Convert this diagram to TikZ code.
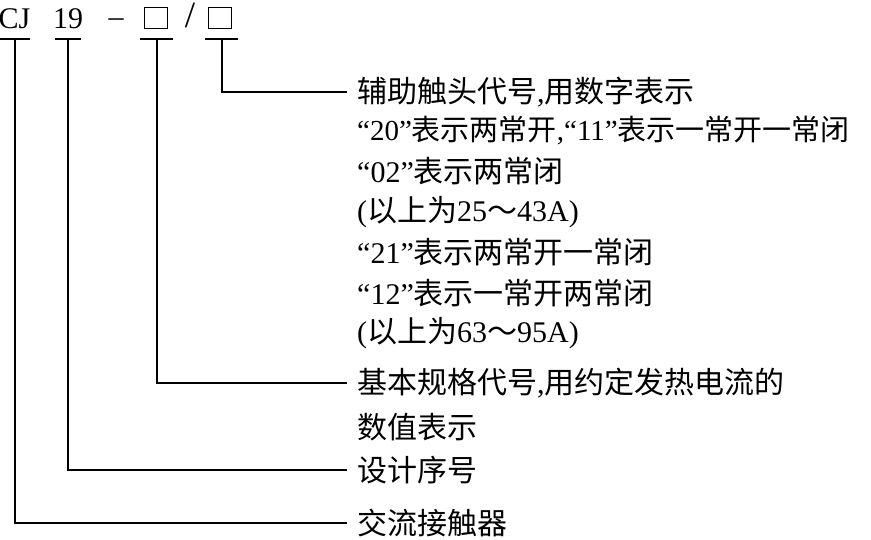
\documentclass[tikz,border=0pt]{standalone}
\usepackage{fontspec}
\setmainfont{Liberation Serif}
\newfontfamily\cjk{Noto Sans CJK SC}
\tikzset{
  hdr/.style={anchor=base, inner sep=0pt, font=\fontsize{30}{32}\selectfont},
  lbl/.style={anchor=west, inner sep=0pt, font=\fontsize{30}{32}\selectfont},
  codebox/.style={draw, line width=1.3pt, minimum width=23pt, minimum height=21pt, inner sep=0pt},
  uline/.style={line width=1.4pt},
  lead/.style={line width=1.6pt}
}
\begin{document}
\begin{tikzpicture}[x=1pt,y=-1pt]
\useasboundingbox (0,0) rectangle (871,539);
% header
\node[hdr] (cj) at (14.5,28) {CJ};
\node[hdr] (n19) at (68,28) {19};
\node[hdr] (dash) at (116,26) {–};
\node[codebox] (b1) at (156,18) {};
\node[hdr, font=\fontsize{37}{38}\selectfont] (slash) at (190,27.5) {/};
\node[codebox] (b2) at (220,18) {};
% underlines
\coordinate (cjul) at (15,39);
\coordinate (n19ul) at (68,39);
\coordinate (b1ul) at (157,39);
\coordinate (b2ul) at (222,39);
\draw[uline] (0,39) -- (30,39);
\draw[uline] (55,39) -- (81,39);
\draw[uline] (140,39) -- (173,39);
\draw[uline] (205,39) -- (238,39);
% labels
\node[lbl] (t1) at (357,92) {{\cjk 辅助触头代号},{\cjk 用数字表示}};
\node[lbl, font=\fontsize{29}{32}\selectfont] (t2) at (357,131) {“20”{\cjk 表示两常开},“11”{\cjk 表示一常开一常闭}};
\node[lbl] (t3) at (357,171) {“02”{\cjk 表示两常闭}};
\node[lbl] (t4) at (357,212) {({\cjk 以上为}25{\cjk ～}43A)};
\node[lbl] (t5) at (357,252) {“21”{\cjk 表示两常开一常闭}};
\node[lbl] (t6) at (357,293) {“12”{\cjk 表示一常开两常闭}};
\node[lbl] (t7) at (357,333) {({\cjk 以上为}63{\cjk ～}95A)};
\node[lbl] (t8) at (357,383) {{\cjk 基本规格代号},{\cjk 用约定发热电流的}};
\node[lbl] (t9) at (357,427) {{\cjk 数值表示}};
\node[lbl] (t10) at (357,470) {{\cjk 设计序号}};
\node[lbl] (t11) at (357,523) {{\cjk 交流接触器}};
% leaders
\draw[lead] (b2ul) |- ([xshift=-10pt]t1.west);
\draw[lead] (b1ul) |- ([xshift=-10pt]t8.west);
\draw[lead] (n19ul) |- ([xshift=-10pt]t10.west);
\draw[lead] (cjul) |- ([xshift=-10pt]t11.west);
\end{tikzpicture}
\end{document}
